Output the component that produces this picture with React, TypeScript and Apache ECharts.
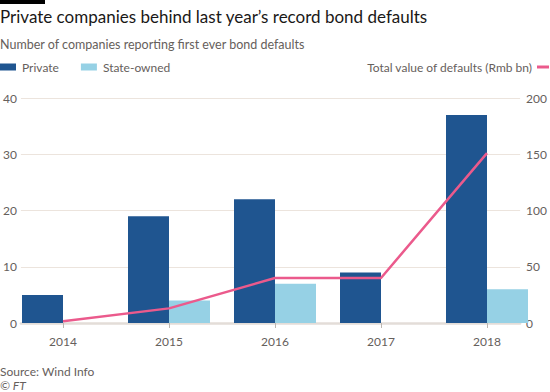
import React, { useEffect, useRef } from "react";
import * as echarts from "echarts";

const years = ["2014", "2015", "2016", "2017", "2018"];
const privateCounts = [5, 19, 22, 9, 37];
const stateCounts = [0, 4, 7, 0, 6];
const defaultValues = [1.5, 13, 40, 40, 151];
const leftTicks = [0, 10, 20, 30, 40];
const rightTicks = [0, 50, 100, 150, 200];

const FONT = "Lato";
const GREY = "#66605c";
const TOP = 98;
const BOTTOM = 69;

export default function App() {
  const ref = useRef<HTMLDivElement>(null);
  useEffect(() => {
    const chart = echarts.init(ref.current!, null, { renderer: "svg" });
    chart.setOption({
      animation: false,
      backgroundColor: "#ffffff",
      textStyle: { fontFamily: FONT },
      grid: [
        { left: 20, right: 23, top: TOP, bottom: BOTTOM },
        { left: 63, right: 63, top: TOP, bottom: BOTTOM },
      ],
      legend: [
        {
          data: ["Private", "State-owned"],
          left: 0,
          top: 61,
          icon: "rect",
          itemWidth: 16,
          itemHeight: 7,
          itemGap: 22,
          padding: 0,
          textStyle: { color: GREY, fontSize: 12, fontFamily: FONT, padding: [0, 0, 0, 1] },
        },
        {
          data: ["Total value of defaults (Rmb bn)"],
          right: 1,
          top: 61,
          align: "right",
          icon: "rect",
          itemWidth: 12,
          itemHeight: 3,
          padding: 0,
          textStyle: { color: GREY, fontSize: 12, fontFamily: FONT },
        },
      ],
      xAxis: [
        {
          gridIndex: 0,
          type: "category",
          data: years,
          axisLine: { show: true, lineStyle: { color: "#e3ddd8", width: 2.5 } },
          axisTick: { show: false },
          axisLabel: { show: false },
          splitLine: { show: false },
        },
        {
          gridIndex: 1,
          type: "category",
          data: years,
          boundaryGap: false,
          axisLine: { show: false },
          axisTick: { show: true, length: 5, lineStyle: { color: "#bdb6b0" } },
          axisLabel: { color: GREY, fontSize: 12, fontFamily: FONT, margin: 12 },
        },
      ],
      yAxis: [
        {
          gridIndex: 0,
          type: "value",
          min: 0,
          max: 40,
          interval: 10,
          position: "left",
          axisLine: { show: false },
          axisTick: { show: false },
          axisLabel: { color: GREY, fontSize: 12, fontFamily: FONT, margin: 4, customValues: leftTicks },
          splitLine: { show: true, lineStyle: { color: "#ece4dd", width: 1 } },
        },
        {
          gridIndex: 0,
          type: "value",
          min: 0,
          max: 200,
          interval: 50,
          position: "right",
          axisLine: { show: false },
          axisTick: { show: false },
          axisLabel: { color: GREY, fontSize: 12, fontFamily: FONT, margin: 6, customValues: rightTicks },
          splitLine: { show: false },
        },
        {
          gridIndex: 1,
          type: "value",
          min: 0,
          max: 40,
          show: false,
        },
        {
          gridIndex: 1,
          type: "value",
          min: 0,
          max: 200,
          show: false,
        },
      ],
      series: [
        {
          name: "Private",
          type: "bar",
          xAxisIndex: 1,
          yAxisIndex: 2,
          data: privateCounts,
          barWidth: 41,
          barGap: "0%",
          clip: false,
          itemStyle: { color: "#1f5590" },
          z: 2,
        },
        {
          name: "State-owned",
          type: "bar",
          xAxisIndex: 1,
          yAxisIndex: 2,
          data: stateCounts,
          barWidth: 41,
          barGap: "0%",
          clip: false,
          itemStyle: { color: "#96d1e5" },
          z: 2,
        },
        {
          name: "Total value of defaults (Rmb bn)",
          type: "line",
          xAxisIndex: 1,
          yAxisIndex: 3,
          data: defaultValues,
          showSymbol: false,
          symbol: "none",
          clip: false,
          lineStyle: { color: "#eb5a8c", width: 2.5 },
          itemStyle: { color: "#eb5a8c" },
          z: 5,
        },
      ],
      graphic: [
        { type: "rect", left: 0, top: 0, shape: { width: 45, height: 4 }, style: { fill: "#000000" } },
        {
          type: "text",
          left: 0,
          top: 8,
          style: { text: "Private companies behind last year’s record bond defaults", fill: "#1a1817", font: `17px ${FONT}` },
        },
        {
          type: "text",
          left: 0,
          top: 38,
          style: { text: "Number of companies reporting first ever bond defaults", fill: GREY, font: `12.5px ${FONT}` },
        },
        {
          type: "text",
          left: 0,
          top: 365,
          style: { text: "Source: Wind Info", fill: GREY, font: `12px ${FONT}` },
        },
        {
          type: "text",
          left: 0,
          top: 379,
          style: { text: "© FT", fill: GREY, font: `italic 12px ${FONT}` },
        },
      ],
    });
    return () => chart.dispose();
  }, []);
  return (
    <div
      ref={ref}
      style={{ width: 550, height: 392, position: "absolute", left: 0, top: 0 }}
    />
  );
}
